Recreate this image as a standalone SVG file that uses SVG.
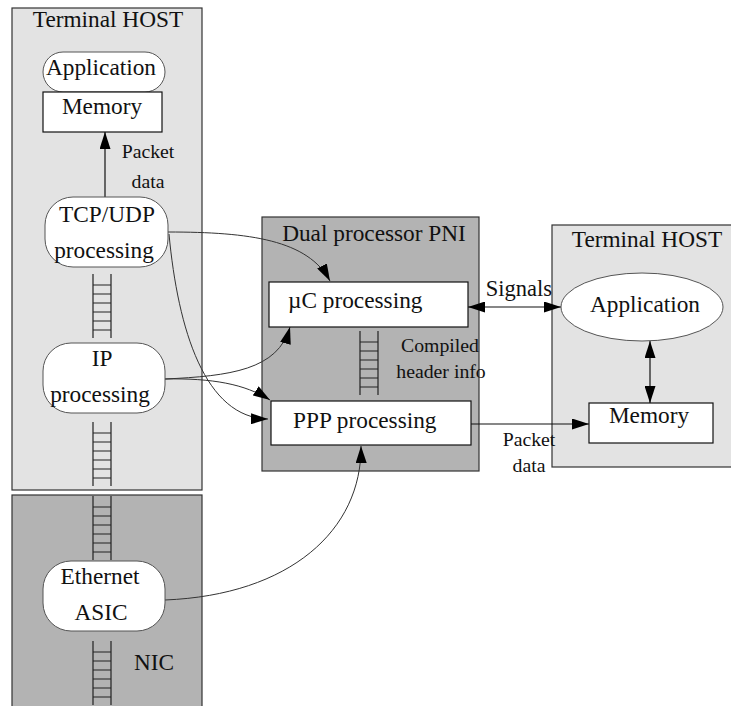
<svg xmlns="http://www.w3.org/2000/svg" width="731" height="706" viewBox="0 0 731 706">
  <style>
    text { font-family: "Liberation Serif", "Times New Roman", serif; fill: #111; }
    .t22 { font-size: 23.3px; }
    .t20 { font-size: 22.5px; }
    .t18 { font-size: 19.8px; }
    .host { fill: #e3e3e3; stroke: #333; stroke-width: 1.2; }
    .dark { fill: #b3b3b3; stroke: #333; stroke-width: 1.2; }
    .pill { fill: #fff; stroke: #555; stroke-width: 1; }
    .box { fill: #fff; stroke: #111; stroke-width: 1.2; }
    .ladder { fill: none; stroke: #222; stroke-width: 1.2; }
    .edge { fill: none; stroke: #333; stroke-width: 1; }
    .edgeb { fill: none; stroke: #111; stroke-width: 1.2; }
  </style>
  <defs>
    <marker id="arr" markerUnits="userSpaceOnUse" markerWidth="17" markerHeight="11" refX="17" refY="5.5" orient="auto-start-reverse">
      <path d="M0,0 L17,5.5 L0,11 z" fill="#000"/>
    </marker>
    <!-- one FIFO ladder segment: rails and rungs -->
    <g id="ladder">
      <path class="ladder" d="M0,0 V64 M18,0 V64 M0,11 H18 M0,20 H18 M0,29 H18 M0,38 H18 M0,47 H18 M0,56 H18"/>
    </g>
  </defs>

  <!-- clusters -->
  <g id="cluster-host-left">
    <rect class="host" x="12" y="8" width="190" height="482"/>
    <text class="t22" x="108" y="27" text-anchor="middle">Terminal HOST</text>
  </g>
  <g id="cluster-nic">
    <rect class="dark" x="12" y="495" width="190" height="220"/>
    <text class="t22" x="154" y="670" text-anchor="middle">NIC</text>
  </g>
  <g id="cluster-pni">
    <rect class="dark" x="262" y="217" width="217" height="254"/>
    <text class="t22" x="374" y="241" text-anchor="middle">Dual processor PNI</text>
  </g>
  <g id="cluster-host-right">
    <rect class="host" x="552" y="225" width="190" height="242"/>
    <text class="t22" x="647" y="247" text-anchor="middle">Terminal HOST</text>
  </g>

  <!-- FIFO ladders -->
  <g id="ladders">
    <use href="#ladder" x="93" y="274"/>
    <use href="#ladder" x="93" y="422"/>
    <use href="#ladder" x="93" y="496"/>
    <use href="#ladder" x="93" y="641"/>
    <use href="#ladder" x="360" y="331"/>
  </g>

  <!-- connectors -->
  <g id="connectors">
    <line class="edgeb" x1="105" y1="197" x2="105" y2="132" marker-end="url(#arr)"/>
    <path class="edge" d="M168,232 C250,232 308,240 330,281" marker-end="url(#arr)"/>
    <path class="edge" d="M169,234 C178,330 205,418 268,419" marker-end="url(#arr)"/>
    <path class="edge" d="M165,379 C230,376 278,370 290,327" marker-end="url(#arr)"/>
    <path class="edge" d="M165,379 C212,378 245,384 270,400" marker-end="url(#arr)"/>
    <path class="edge" d="M165,600 C290,595 362,530 361,446" marker-end="url(#arr)"/>
    <line class="edgeb" x1="468" y1="307" x2="561" y2="307" marker-start="url(#arr)" marker-end="url(#arr)"/>
    <line class="edgeb" x1="650" y1="341" x2="650" y2="403" marker-start="url(#arr)" marker-end="url(#arr)"/>
    <line class="edgeb" x1="471" y1="424" x2="589" y2="424" marker-end="url(#arr)"/>
    <text class="t18" x="148" y="158" text-anchor="middle">Packet</text>
    <text class="t18" x="148" y="188" text-anchor="middle">data</text>
    <text class="t20" x="519" y="296" text-anchor="middle">Signals</text>
    <text class="t18" x="440" y="352" text-anchor="middle">Compiled</text>
    <text class="t18" x="441" y="378" text-anchor="middle">header info</text>
    <text class="t18" x="529" y="446" text-anchor="middle">Packet</text>
    <text class="t18" x="529" y="472" text-anchor="middle">data</text>
  </g>

  <!-- nodes -->
  <g id="app-left">
    <rect class="pill" x="43" y="52" width="122" height="40" rx="20"/>
    <text class="t22" x="101" y="75" text-anchor="middle">Application</text>
  </g>
  <g id="mem-left">
    <rect class="box" x="43" y="92" width="119" height="40"/>
    <text class="t22" x="102" y="114" text-anchor="middle">Memory</text>
  </g>
  <g id="tcpudp">
    <rect class="pill" x="45" y="197" width="123" height="70" rx="28"/>
    <text class="t22" x="107" y="222" text-anchor="middle">TCP/UDP</text>
    <text class="t22" x="104" y="258" text-anchor="middle">processing</text>
  </g>
  <g id="ip">
    <rect class="pill" x="43" y="343" width="122" height="70" rx="28"/>
    <text class="t22" x="102" y="366" text-anchor="middle">IP</text>
    <text class="t22" x="100" y="402" text-anchor="middle">processing</text>
  </g>
  <g id="ethernet">
    <rect class="pill" x="43" y="561" width="122" height="70" rx="28"/>
    <text class="t22" x="100" y="584" text-anchor="middle">Ethernet</text>
    <text class="t22" x="101" y="620" text-anchor="middle">ASIC</text>
  </g>
  <g id="uc">
    <rect class="box" x="269" y="282" width="199" height="45"/>
    <text class="t22" x="288" y="308">µC processing</text>
  </g>
  <g id="ppp">
    <rect class="box" x="271" y="401" width="200" height="44"/>
    <text class="t22" x="293" y="428">PPP processing</text>
  </g>
  <g id="app-right">
    <ellipse class="pill" cx="642" cy="307" rx="81" ry="34"/>
    <text class="t22" x="645" y="312" text-anchor="middle">Application</text>
  </g>
  <g id="mem-right">
    <rect class="box" x="589" y="403" width="124" height="40"/>
    <text class="t22" x="649" y="423" text-anchor="middle">Memory</text>
  </g>
</svg>
